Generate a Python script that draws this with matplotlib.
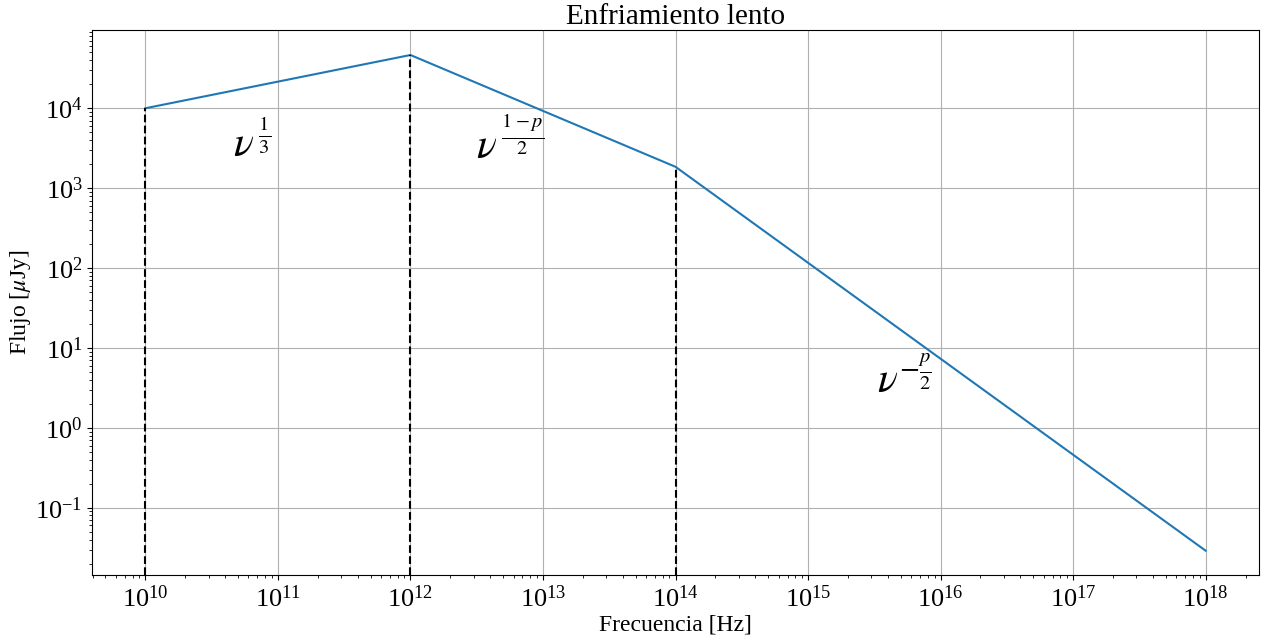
import matplotlib
matplotlib.use("Agg")
import matplotlib.pyplot as plt
import numpy as np

plt.rcParams['font.family'] = ['Liberation Serif', 'DejaVu Serif']
plt.rcParams['mathtext.fontset'] = 'stix'

# frecuencias de quiebre y flujo
freq = [1e10, 1e12, 1e14, 1e18]
flux = [1e4, 4.64e4, 1.85e3, 0.029]
breaks = [1e10, 1e12, 1e14]
break_flux = [1e4, 4.64e4, 1.85e3]
xticks = [1e10, 1e11, 1e12, 1e13, 1e14, 1e15, 1e16, 1e17, 1e18]
yticks = [1e-1, 1e0, 1e1, 1e2, 1e3, 1e4]

labels = [r'$\nu^{\,\frac{1}{3}}$', r'$\nu^{\,\frac{1-p}{2}}$', r'$\nu^{-\frac{p}{2}}$']
label_x = [4.6e10, 3.1e12, 3.3e15]
label_y = [3.6e3, 3.6e3, 4.0e0]

fig, ax = plt.subplots(figsize=(12.65, 6.43), dpi=100)
ax.loglog(freq, flux, color='tab:blue')
xmin, xmax = ax.get_xlim()
ymin, ymax = ax.get_ylim()
ax.vlines(breaks, ymin, break_flux, colors='k', linestyles='--')
ax.set_xticks(xticks)
ax.set_yticks(yticks)
ax.set_xlim(xmin, xmax)
ax.set_ylim(ymin, ymax)

for s, x, y in zip(labels, label_x, label_y):
    ax.text(x, y, s, fontsize=30, va='center', ha='left')

ax.grid(True, which='major', color='#b0b0b0')
ax.set_title('Enfriamiento lento', fontsize=21, pad=4)
ax.set_xlabel('Frecuencia [Hz]', fontsize=17, labelpad=2)
ax.set_ylabel(r'Flujo [$\mu$Jy]', fontsize=17, labelpad=2)
ax.tick_params(labelsize=19)
plt.subplots_adjust(left=0.073, right=0.995, top=0.953, bottom=0.105)
plt.savefig('out.png')
